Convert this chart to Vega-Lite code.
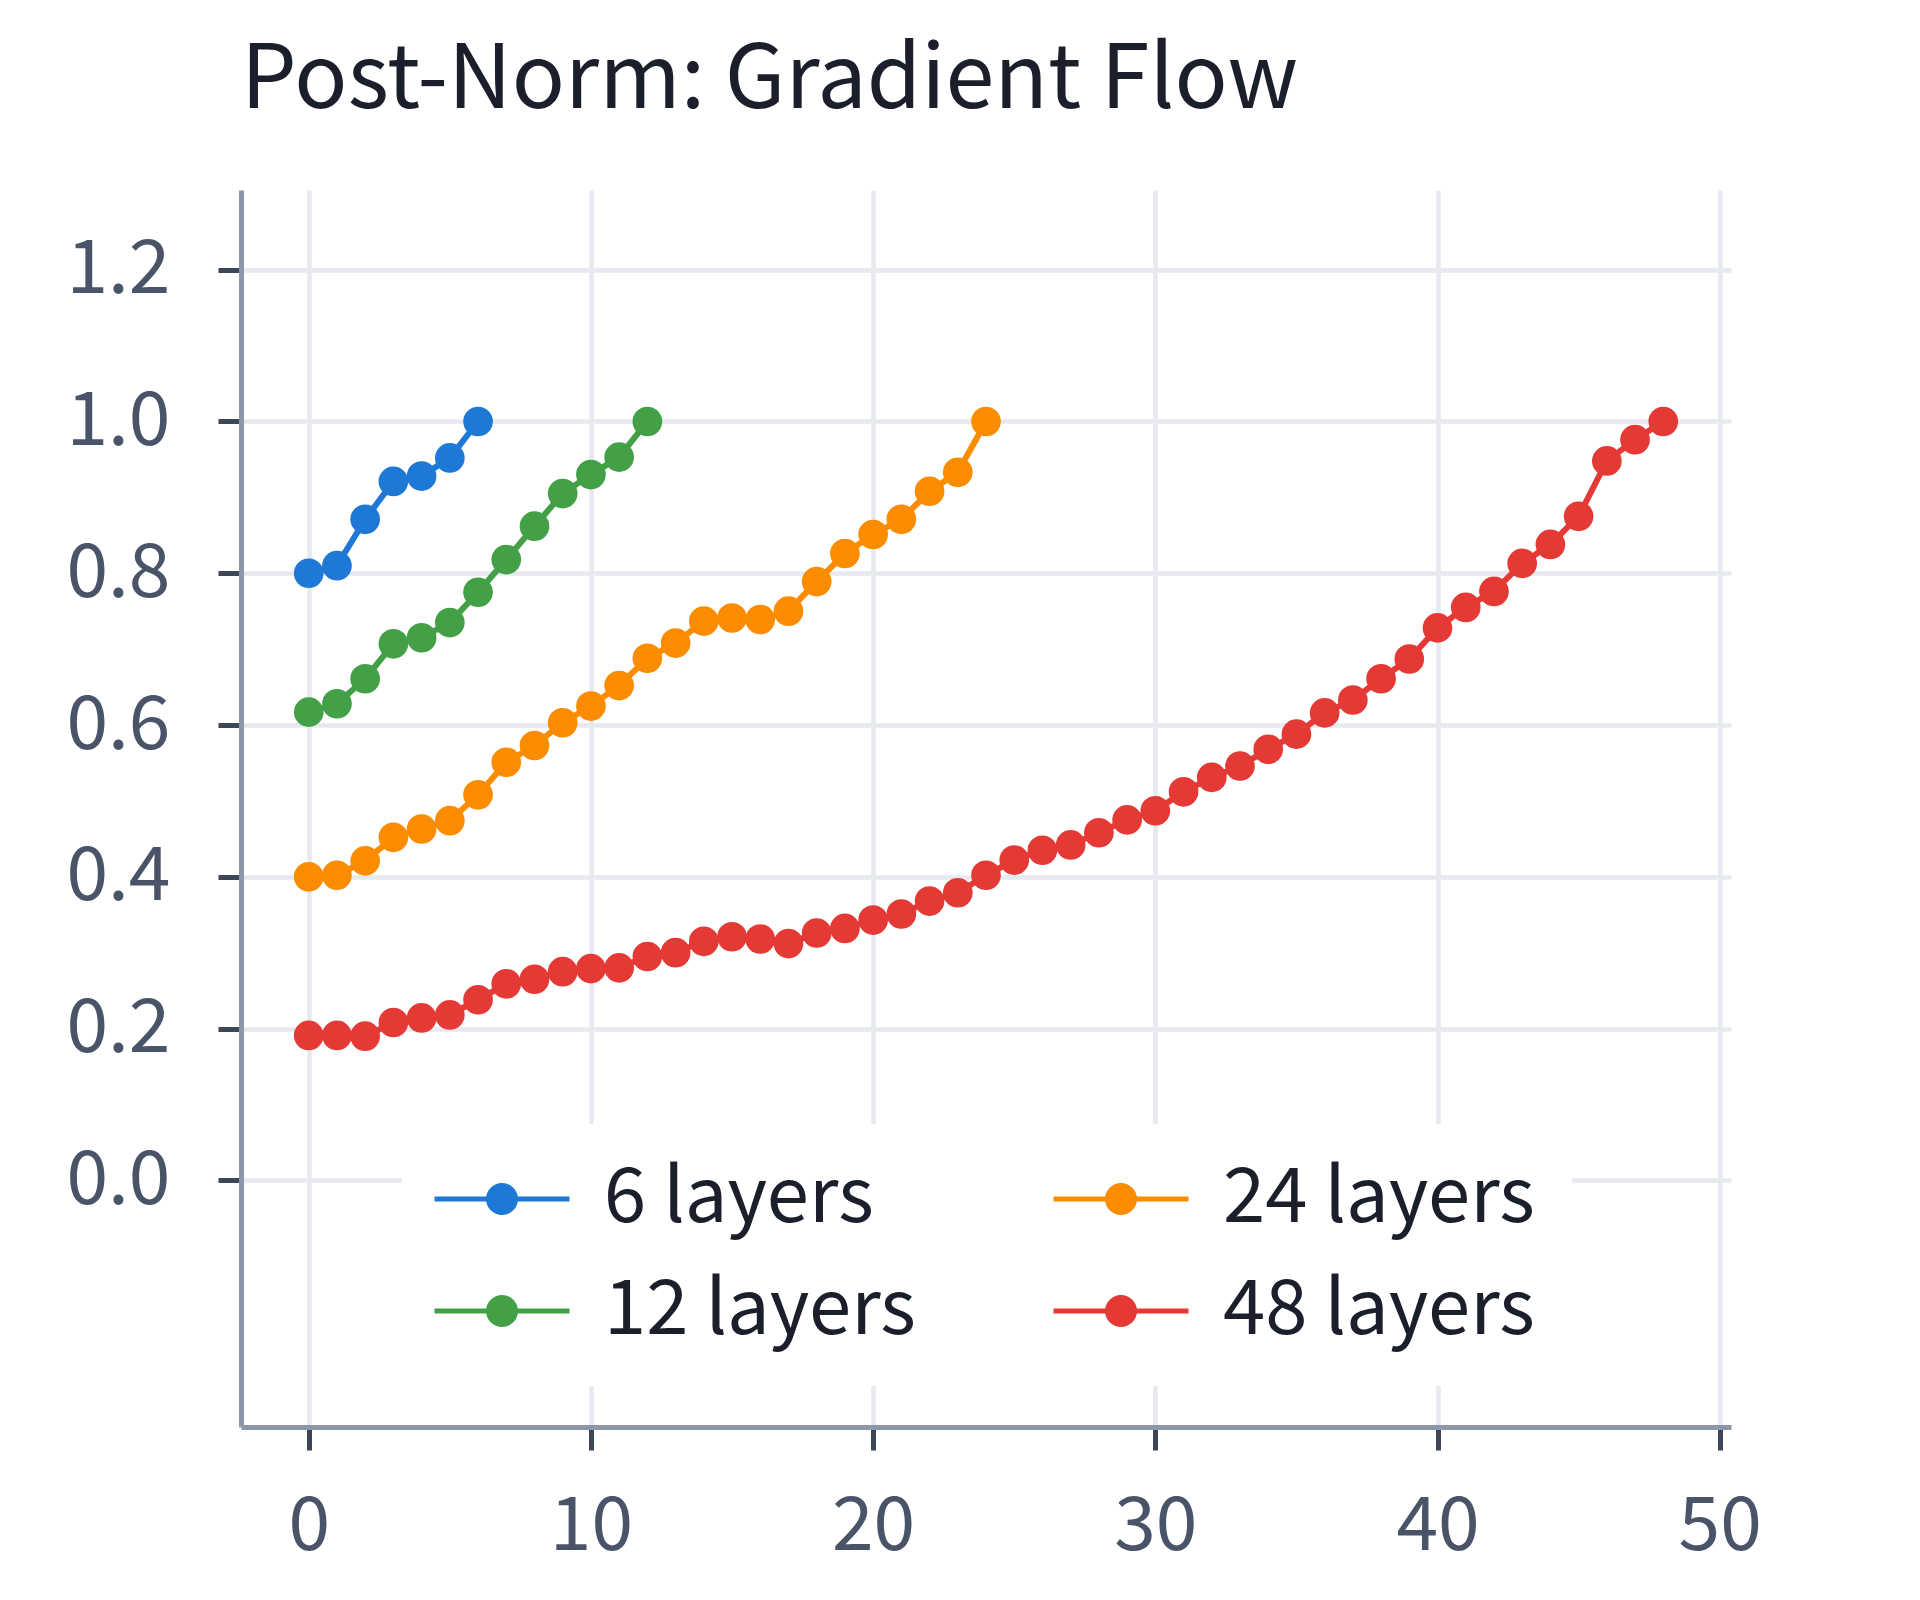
{
  "$schema": "https://vega.github.io/schema/vega-lite/v6.json",
  "width": 1490,
  "height": 1237,
  "autosize": {"type": "none"},
  "padding": {"left": 241, "top": 190, "right": 189, "bottom": 173},
  "background": "white",
  "title": {
    "text": "Post-Norm: Gradient Flow",
    "anchor": "start",
    "frame": "group",
    "font": "Noto Sans CJK KR",
    "fontSize": 88,
    "fontWeight": "normal",
    "color": "#1a1f2b",
    "offset": 64
  },
  "config": {
    "view": {"stroke": null},
    "font": "Noto Sans CJK KR",
    "axis": {
      "domainColor": "#8c97aa",
      "domainWidth": 5,
      "tickColor": "#3b4657",
      "tickWidth": 5,
      "tickSize": 23,
      "gridColor": "#e6e9ef",
      "gridWidth": 4.5,
      "labelColor": "#4a5468",
      "labelFont": "Noto Sans CJK KR",
      "labelFontSize": 75,
      "labelPadding": 48,
      "title": null
    }
  },
  "data": {
    "values": [
      {"series": "6 layers", "layer": 0, "value": 0.800},
      {"series": "6 layers", "layer": 1, "value": 0.810},
      {"series": "6 layers", "layer": 2, "value": 0.871},
      {"series": "6 layers", "layer": 3, "value": 0.921},
      {"series": "6 layers", "layer": 4, "value": 0.928},
      {"series": "6 layers", "layer": 5, "value": 0.952},
      {"series": "6 layers", "layer": 6, "value": 1.000},
      {"series": "12 layers", "layer": 0, "value": 0.617},
      {"series": "12 layers", "layer": 1, "value": 0.628},
      {"series": "12 layers", "layer": 2, "value": 0.661},
      {"series": "12 layers", "layer": 3, "value": 0.707},
      {"series": "12 layers", "layer": 4, "value": 0.715},
      {"series": "12 layers", "layer": 5, "value": 0.735},
      {"series": "12 layers", "layer": 6, "value": 0.775},
      {"series": "12 layers", "layer": 7, "value": 0.818},
      {"series": "12 layers", "layer": 8, "value": 0.862},
      {"series": "12 layers", "layer": 9, "value": 0.905},
      {"series": "12 layers", "layer": 10, "value": 0.930},
      {"series": "12 layers", "layer": 11, "value": 0.953},
      {"series": "12 layers", "layer": 12, "value": 1.000},
      {"series": "24 layers", "layer": 0, "value": 0.400},
      {"series": "24 layers", "layer": 1, "value": 0.402},
      {"series": "24 layers", "layer": 2, "value": 0.421},
      {"series": "24 layers", "layer": 3, "value": 0.452},
      {"series": "24 layers", "layer": 4, "value": 0.463},
      {"series": "24 layers", "layer": 5, "value": 0.474},
      {"series": "24 layers", "layer": 6, "value": 0.508},
      {"series": "24 layers", "layer": 7, "value": 0.551},
      {"series": "24 layers", "layer": 8, "value": 0.573},
      {"series": "24 layers", "layer": 9, "value": 0.603},
      {"series": "24 layers", "layer": 10, "value": 0.625},
      {"series": "24 layers", "layer": 11, "value": 0.652},
      {"series": "24 layers", "layer": 12, "value": 0.688},
      {"series": "24 layers", "layer": 13, "value": 0.708},
      {"series": "24 layers", "layer": 14, "value": 0.737},
      {"series": "24 layers", "layer": 15, "value": 0.741},
      {"series": "24 layers", "layer": 16, "value": 0.739},
      {"series": "24 layers", "layer": 17, "value": 0.750},
      {"series": "24 layers", "layer": 18, "value": 0.789},
      {"series": "24 layers", "layer": 19, "value": 0.826},
      {"series": "24 layers", "layer": 20, "value": 0.851},
      {"series": "24 layers", "layer": 21, "value": 0.871},
      {"series": "24 layers", "layer": 22, "value": 0.908},
      {"series": "24 layers", "layer": 23, "value": 0.933},
      {"series": "24 layers", "layer": 24, "value": 1.000},
      {"series": "48 layers", "layer": 0, "value": 0.191},
      {"series": "48 layers", "layer": 1, "value": 0.191},
      {"series": "48 layers", "layer": 2, "value": 0.190},
      {"series": "48 layers", "layer": 3, "value": 0.208},
      {"series": "48 layers", "layer": 4, "value": 0.214},
      {"series": "48 layers", "layer": 5, "value": 0.218},
      {"series": "48 layers", "layer": 6, "value": 0.238},
      {"series": "48 layers", "layer": 7, "value": 0.259},
      {"series": "48 layers", "layer": 8, "value": 0.265},
      {"series": "48 layers", "layer": 9, "value": 0.275},
      {"series": "48 layers", "layer": 10, "value": 0.279},
      {"series": "48 layers", "layer": 11, "value": 0.280},
      {"series": "48 layers", "layer": 12, "value": 0.295},
      {"series": "48 layers", "layer": 13, "value": 0.300},
      {"series": "48 layers", "layer": 14, "value": 0.315},
      {"series": "48 layers", "layer": 15, "value": 0.321},
      {"series": "48 layers", "layer": 16, "value": 0.318},
      {"series": "48 layers", "layer": 17, "value": 0.312},
      {"series": "48 layers", "layer": 18, "value": 0.326},
      {"series": "48 layers", "layer": 19, "value": 0.332},
      {"series": "48 layers", "layer": 20, "value": 0.343},
      {"series": "48 layers", "layer": 21, "value": 0.351},
      {"series": "48 layers", "layer": 22, "value": 0.368},
      {"series": "48 layers", "layer": 23, "value": 0.379},
      {"series": "48 layers", "layer": 24, "value": 0.402},
      {"series": "48 layers", "layer": 25, "value": 0.422},
      {"series": "48 layers", "layer": 26, "value": 0.435},
      {"series": "48 layers", "layer": 27, "value": 0.442},
      {"series": "48 layers", "layer": 28, "value": 0.458},
      {"series": "48 layers", "layer": 29, "value": 0.475},
      {"series": "48 layers", "layer": 30, "value": 0.487},
      {"series": "48 layers", "layer": 31, "value": 0.512},
      {"series": "48 layers", "layer": 32, "value": 0.531},
      {"series": "48 layers", "layer": 33, "value": 0.546},
      {"series": "48 layers", "layer": 34, "value": 0.568},
      {"series": "48 layers", "layer": 35, "value": 0.588},
      {"series": "48 layers", "layer": 36, "value": 0.616},
      {"series": "48 layers", "layer": 37, "value": 0.633},
      {"series": "48 layers", "layer": 38, "value": 0.661},
      {"series": "48 layers", "layer": 39, "value": 0.687},
      {"series": "48 layers", "layer": 40, "value": 0.728},
      {"series": "48 layers", "layer": 41, "value": 0.755},
      {"series": "48 layers", "layer": 42, "value": 0.776},
      {"series": "48 layers", "layer": 43, "value": 0.813},
      {"series": "48 layers", "layer": 44, "value": 0.838},
      {"series": "48 layers", "layer": 45, "value": 0.875},
      {"series": "48 layers", "layer": 46, "value": 0.948},
      {"series": "48 layers", "layer": 47, "value": 0.976},
      {"series": "48 layers", "layer": 48, "value": 1.000}
    ]
  },
  "mark": {
    "type": "line",
    "strokeWidth": 6,
    "point": {"filled": true, "size": 880, "opacity": 1}
  },
  "encoding": {
    "x": {
      "field": "layer",
      "type": "quantitative",
      "scale": {"domain": [-2.4, 50.4], "nice": false, "zero": false},
      "axis": {"values": [0, 10, 20, 30, 40, 50], "grid": true, "labelPadding": 40}
    },
    "y": {
      "field": "value",
      "type": "quantitative",
      "scale": {"domain": [-0.325, 1.305], "nice": false, "zero": false},
      "axis": {"values": [0, 0.2, 0.4, 0.6, 0.8, 1.0, 1.2], "format": ".1f", "grid": true}
    },
    "color": {
      "field": "series",
      "type": "nominal",
      "scale": {
        "domain": ["6 layers", "24 layers", "12 layers", "48 layers"],
        "range": ["#1e78d6", "#fb8c00", "#43a047", "#e53935"]
      },
      "legend": {
        "title": null,
        "orient": "none",
        "legendX": 161,
        "legendY": 934,
        "direction": "horizontal",
        "columns": 2,
        "fillColor": "white",
        "padding": 37,
        "symbolType": "M -5 0 L 5 0 M -1 0 A 1 1 0 1 1 1 0 A 1 1 0 1 1 -1 0 Z",
        "symbolSize": 729,
        "symbolStrokeWidth": 5,
        "symbolOffset": 25,
        "labelOffset": 64,
        "labelFont": "Noto Sans CJK KR",
        "labelFontSize": 76,
        "labelColor": "#1a1f2b",
        "labelLimit": 0,
        "rowPadding": 36,
        "columnPadding": 127,
        "encode": {
          "symbols": {
            "update": {
              "fill": {"scale": "color", "field": "value"},
              "stroke": {"scale": "color", "field": "value"},
              "opacity": {"value": 1},
              "fillOpacity": {"value": 1}
            }
          }
        }
      }
    }
  }
}
